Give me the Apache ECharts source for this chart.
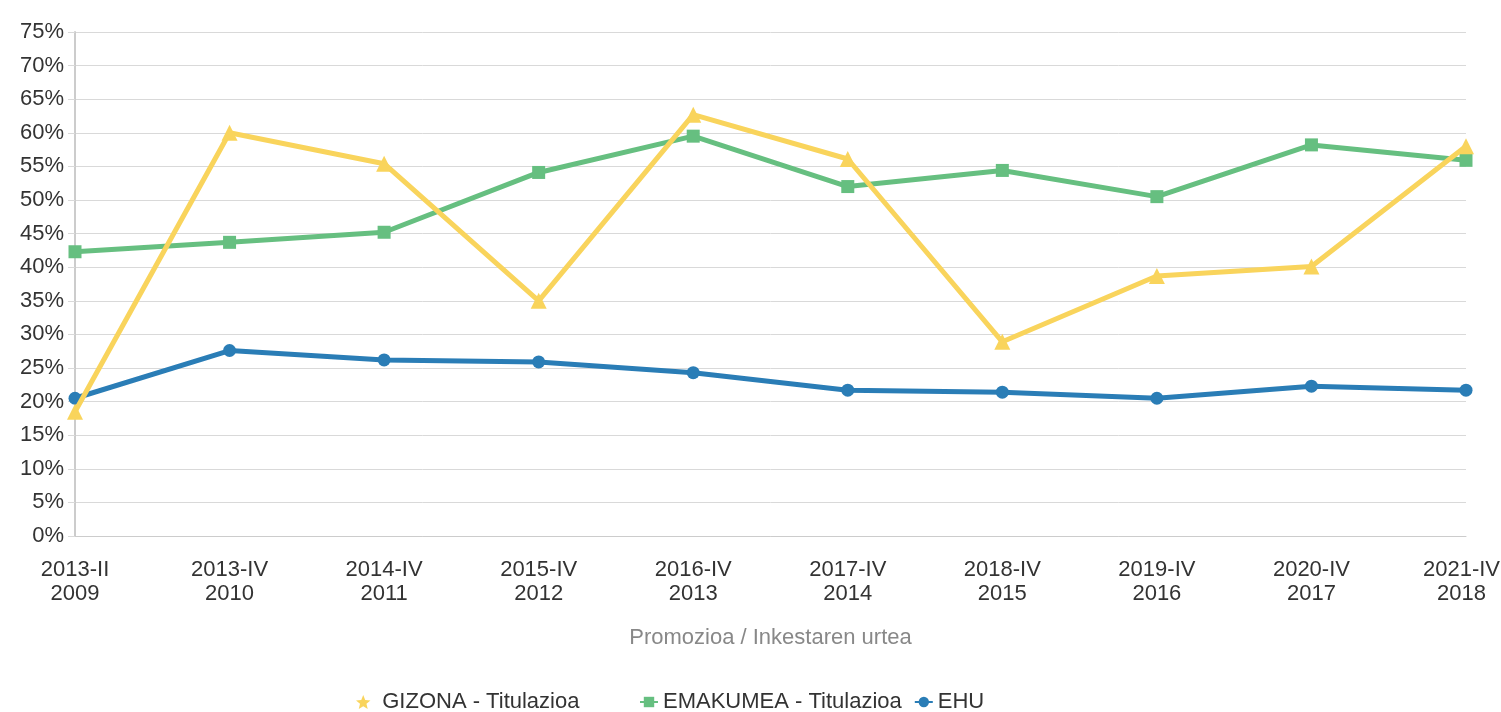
<!DOCTYPE html>
<html><head><meta charset="utf-8">
<script src="https://cdn.jsdelivr.net/npm/echarts@6/dist/echarts.min.js"></script>
<style>html,body{margin:0;padding:0;background:#fff}#c{width:1501px;height:712px}</style>
</head><body><div id="c"></div>
<script>
const categories = ['2013-II\n2009','2013-IV\n2010','2014-IV\n2011','2015-IV\n2012','2016-IV\n2013','2017-IV\n2014','2018-IV\n2015','2019-IV\n2016','2020-IV\n2017','2021-IV\n2018'];
const gizona = [18.5, 60.0, 55.4, 35.0, 62.7, 56.1, 28.9, 38.7, 40.1, 58.0];
const emakumea = [42.3, 43.7, 45.2, 54.1, 59.5, 52.0, 54.4, 50.5, 58.2, 55.9];
const ehu = [20.5, 27.6, 26.2, 25.9, 24.3, 21.7, 21.4, 20.5, 22.3, 21.7];
const yTicks = {min: 0, max: 75, interval: 5};
const names = ['GIZONA - Titulazioa', 'EMAKUMEA - Titulazioa', 'EHU'];
const colors = ['#f9d45c', '#66bf80', '#2a7db6'];
const star = 'path://M12,1 L15,8.6 L23,9.2 L16.9,14.4 L18.8,22.3 L12,18 L5.2,22.3 L7.1,14.4 L1,9.2 L9,8.6 Z';

const chart = echarts.init(document.getElementById('c'));
const font = 'Liberation Sans, Arial, sans-serif';
const legendText = {fontSize: 22, color: '#333', fontFamily: font};
const catData = categories.map((c, i) => i === categories.length - 1
  ? {value: c, textStyle: {padding: [0, 9, 0, 0]}} : c);
chart.setOption({
  animation: false,
  textStyle: {fontFamily: font},
  grid: {left: 75, right: 35, top: 32, bottom: 176, containLabel: false, outerBoundsMode: 'none'},
  legend: [
    {left: 351, top: 686, itemWidth: 28, itemHeight: 14, itemGap: 12, textStyle: legendText,
     data: [{name: names[0], icon: star}]},
    {left: 634, top: 686, itemWidth: 18, itemHeight: 13, itemGap: 12, textStyle: legendText,
     data: [{name: names[1]}, {name: names[2]}]}
  ],
  xAxis: {
    type: 'category', data: catData, boundaryGap: false,
    name: 'Promozioa / Inkestaren urtea', nameLocation: 'middle', nameGap: 91,
    nameTextStyle: {fontSize: 22, color: '#888', fontFamily: font},
    axisLine: {show: true, lineStyle: {color: '#ccc'}},
    axisTick: {show: false},
    axisLabel: {fontSize: 22, color: '#333', lineHeight: 24, margin: 22, fontFamily: font, interval: 0}
  },
  yAxis: {
    type: 'value', min: yTicks.min, max: yTicks.max, interval: yTicks.interval,
    axisLine: {show: true, lineStyle: {color: '#ccc', width: 2}},
    axisTick: {show: true, length: 7, lineStyle: {color: '#d9d9d9'}},
    splitLine: {lineStyle: {color: '#d9d9d9', width: 1}},
    axisLabel: {formatter: '{value}%', fontSize: 22, color: '#333', margin: 11, fontFamily: font}
  },
  series: [
    {name: names[0], type: 'line', data: gizona, color: colors[0], symbol: 'triangle', symbolSize: 16,
     lineStyle: {width: 5}, z: 3},
    {name: names[1], type: 'line', data: emakumea, color: colors[1], symbol: 'rect', symbolSize: 13,
     lineStyle: {width: 5}, z: 2},
    {name: names[2], type: 'line', data: ehu, color: colors[2], symbol: 'circle', symbolSize: 13,
     lineStyle: {width: 5}, z: 1}
  ]
});
</script></body></html>
